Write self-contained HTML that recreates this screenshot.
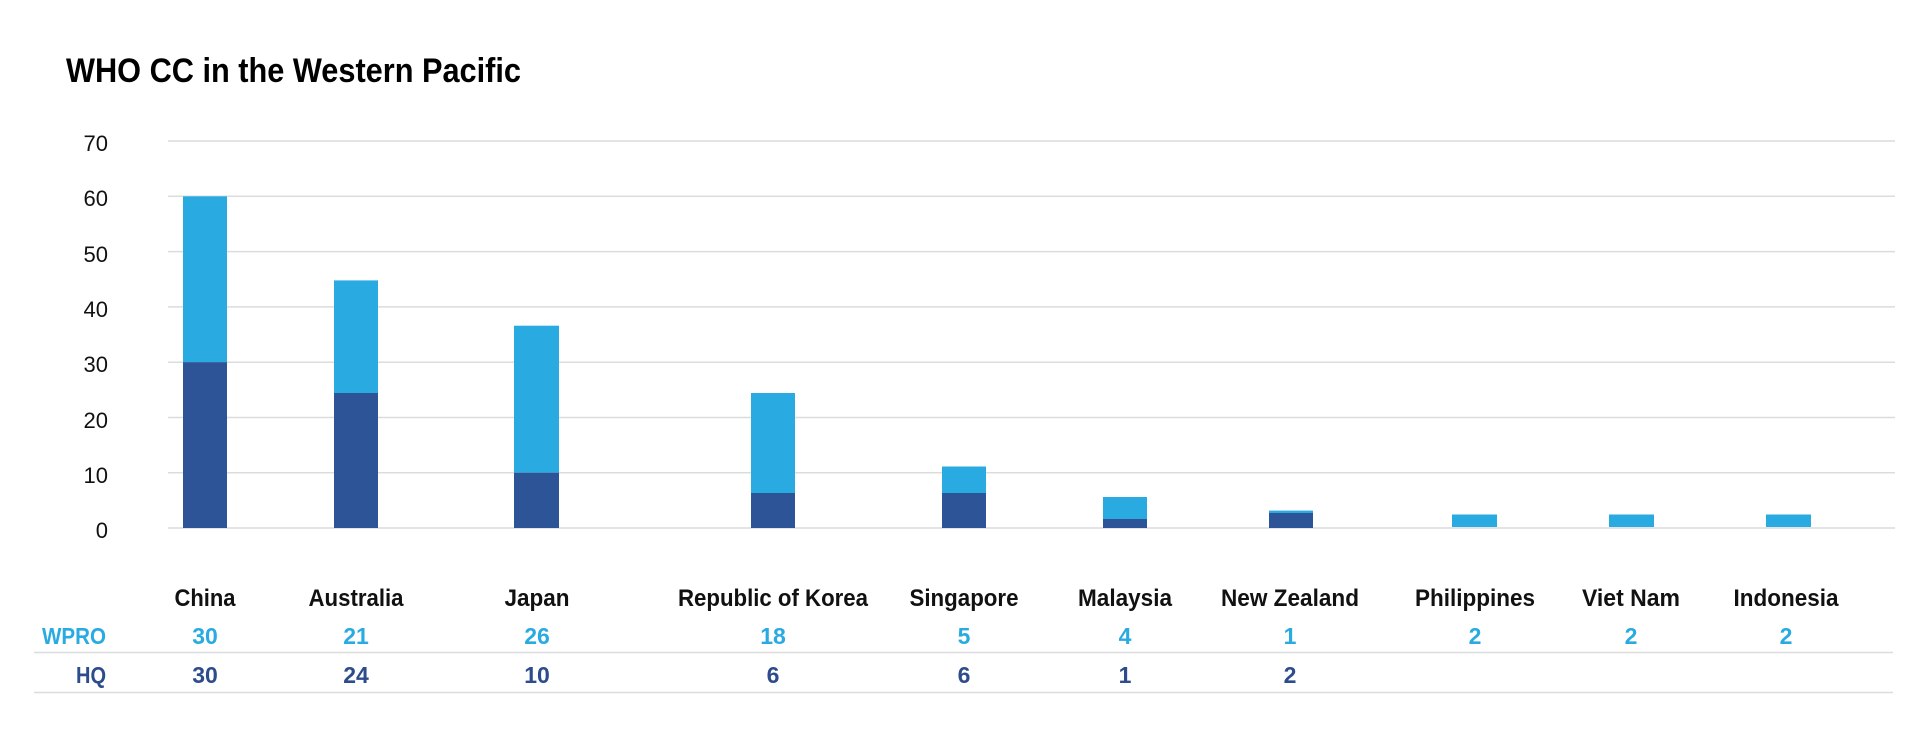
<!DOCTYPE html>
<html><head><meta charset="utf-8"><style>
html,body{margin:0;padding:0;background:#fff;width:1920px;height:736px;overflow:hidden}
svg{display:block}
text{font-family:"Liberation Sans",sans-serif}
</style></head><body>
<svg width="1920" height="736" viewBox="0 0 1920 736" xmlns="http://www.w3.org/2000/svg">
<text x="66" y="82" font-size="34" font-weight="bold" fill="#000" textLength="455" lengthAdjust="spacingAndGlyphs">WHO CC in the Western Pacific</text>
<g stroke="#dcdcdc" stroke-width="1.5">
<line x1="168" y1="141" x2="1895" y2="141"/>
<line x1="168" y1="196.3" x2="1895" y2="196.3"/>
<line x1="168" y1="251.6" x2="1895" y2="251.6"/>
<line x1="168" y1="306.9" x2="1895" y2="306.9"/>
<line x1="168" y1="362.2" x2="1895" y2="362.2"/>
<line x1="168" y1="417.5" x2="1895" y2="417.5"/>
<line x1="168" y1="472.8" x2="1895" y2="472.8"/>
<line x1="168" y1="528" x2="1895" y2="528"/>
</g>
<g font-size="22" fill="#111" text-anchor="end">
<text x="108" y="151">70</text>
<text x="108" y="206">60</text>
<text x="108" y="262">50</text>
<text x="108" y="317">40</text>
<text x="108" y="372">30</text>
<text x="108" y="428">20</text>
<text x="108" y="483">10</text>
<text x="108" y="538">0</text>
</g>
<g>
<rect x="183" y="196.3" width="44" height="166" fill="#29abe2"/>
<rect x="183" y="362.2" width="44" height="165.8" fill="#2c5496"/>
<rect x="334" y="280.4" width="44" height="113" fill="#29abe2"/>
<rect x="334" y="393" width="44" height="135" fill="#2c5496"/>
<rect x="514" y="325.7" width="45" height="147" fill="#29abe2"/>
<rect x="514" y="472.7" width="45" height="55.3" fill="#2c5496"/>
<rect x="751" y="393" width="44" height="100" fill="#29abe2"/>
<rect x="751" y="493" width="44" height="35" fill="#2c5496"/>
<rect x="942" y="466.5" width="44" height="26.5" fill="#29abe2"/>
<rect x="942" y="493" width="44" height="35" fill="#2c5496"/>
<rect x="1103" y="497" width="44" height="22" fill="#29abe2"/>
<rect x="1103" y="519" width="44" height="9" fill="#2c5496"/>
<rect x="1269" y="510.6" width="44" height="2.4" fill="#29abe2"/>
<rect x="1269" y="513" width="44" height="15" fill="#2c5496"/>
<rect x="1452" y="514.5" width="45" height="12.5" fill="#29abe2"/>
<rect x="1609" y="514.5" width="45" height="12.5" fill="#29abe2"/>
<rect x="1766" y="514.5" width="45" height="12.5" fill="#29abe2"/>
</g>
<g font-size="24" font-weight="bold" fill="#111" text-anchor="middle">
<text x="205" y="606" textLength="61" lengthAdjust="spacingAndGlyphs">China</text>
<text x="356" y="606" textLength="95" lengthAdjust="spacingAndGlyphs">Australia</text>
<text x="537" y="606" textLength="65" lengthAdjust="spacingAndGlyphs">Japan</text>
<text x="773" y="606" textLength="190" lengthAdjust="spacingAndGlyphs">Republic of Korea</text>
<text x="964" y="606" textLength="109" lengthAdjust="spacingAndGlyphs">Singapore</text>
<text x="1125" y="606" textLength="94" lengthAdjust="spacingAndGlyphs">Malaysia</text>
<text x="1290" y="606" textLength="138" lengthAdjust="spacingAndGlyphs">New Zealand</text>
<text x="1475" y="606" textLength="120" lengthAdjust="spacingAndGlyphs">Philippines</text>
<text x="1631" y="606" textLength="98" lengthAdjust="spacingAndGlyphs">Viet Nam</text>
<text x="1786" y="606" textLength="105" lengthAdjust="spacingAndGlyphs">Indonesia</text>
</g>
<g stroke="#dcdcdc" stroke-width="1.5">
<line x1="34" y1="652.5" x2="1893" y2="652.5"/>
<line x1="34" y1="692.5" x2="1893" y2="692.5"/>
</g>
<g font-size="23" font-weight="bold" fill="#29abe2" text-anchor="middle">
<text x="42" y="644" text-anchor="start" textLength="64" lengthAdjust="spacingAndGlyphs">WPRO</text>
<text x="205" y="644">30</text>
<text x="356" y="644">21</text>
<text x="537" y="644">26</text>
<text x="773" y="644">18</text>
<text x="964" y="644">5</text>
<text x="1125" y="644">4</text>
<text x="1290" y="644">1</text>
<text x="1475" y="644">2</text>
<text x="1631" y="644">2</text>
<text x="1786" y="644">2</text>
</g>
<g font-size="23" font-weight="bold" fill="#2c4c8c" text-anchor="middle">
<text x="76" y="683" text-anchor="start" textLength="30" lengthAdjust="spacingAndGlyphs">HQ</text>
<text x="205" y="683">30</text>
<text x="356" y="683">24</text>
<text x="537" y="683">10</text>
<text x="773" y="683">6</text>
<text x="964" y="683">6</text>
<text x="1125" y="683">1</text>
<text x="1290" y="683">2</text>
</g>
</svg>
</body></html>
